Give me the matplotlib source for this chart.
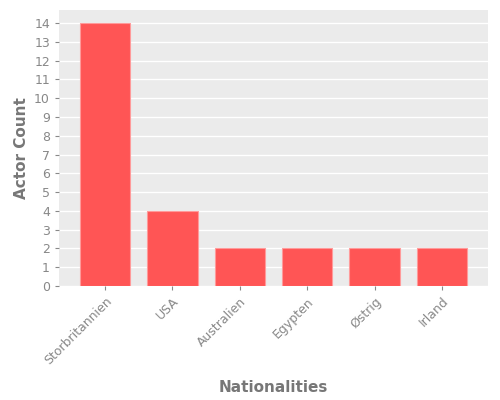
import matplotlib
matplotlib.use("Agg")
import matplotlib.pyplot as plt

categories = ["Storbritannien", "USA", "Australien", "Egypten", "Østrig", "Irland"]
counts = [14, 4, 2, 2, 2, 2]

fig = plt.figure(figsize=(5, 4), dpi=100)
ax = fig.add_axes([0.118, 0.285, 0.858, 0.69])
ax.set_facecolor("#EBEBEB")
x = list(range(len(categories)))
ax.bar(x, counts, width=0.745, color="#FF5555", edgecolor="#FF9A9A", linewidth=0.8, zorder=3)
ax.set_xlim(-0.685, 5.685)
ax.set_ylim(0, 14.7)
ax.set_yticks(range(0, 15))
ax.set_xticks(x)
ax.set_xticklabels(categories, rotation=45, ha="right", rotation_mode="anchor")
ax.grid(axis="y", color="white", linewidth=1, zorder=0)
ax.grid(axis="x", visible=False)
for s in ax.spines.values():
    s.set_visible(False)
ax.tick_params(colors="#888888", labelsize=9, length=3, labelcolor="#888888")
ax.set_ylabel("Actor Count", color="#777777", fontsize=11, fontweight="bold")
ax.set_xlabel("Nationalities", color="#777777", fontsize=11, fontweight="bold", labelpad=9)
fig.savefig("out.png", dpi=100)
